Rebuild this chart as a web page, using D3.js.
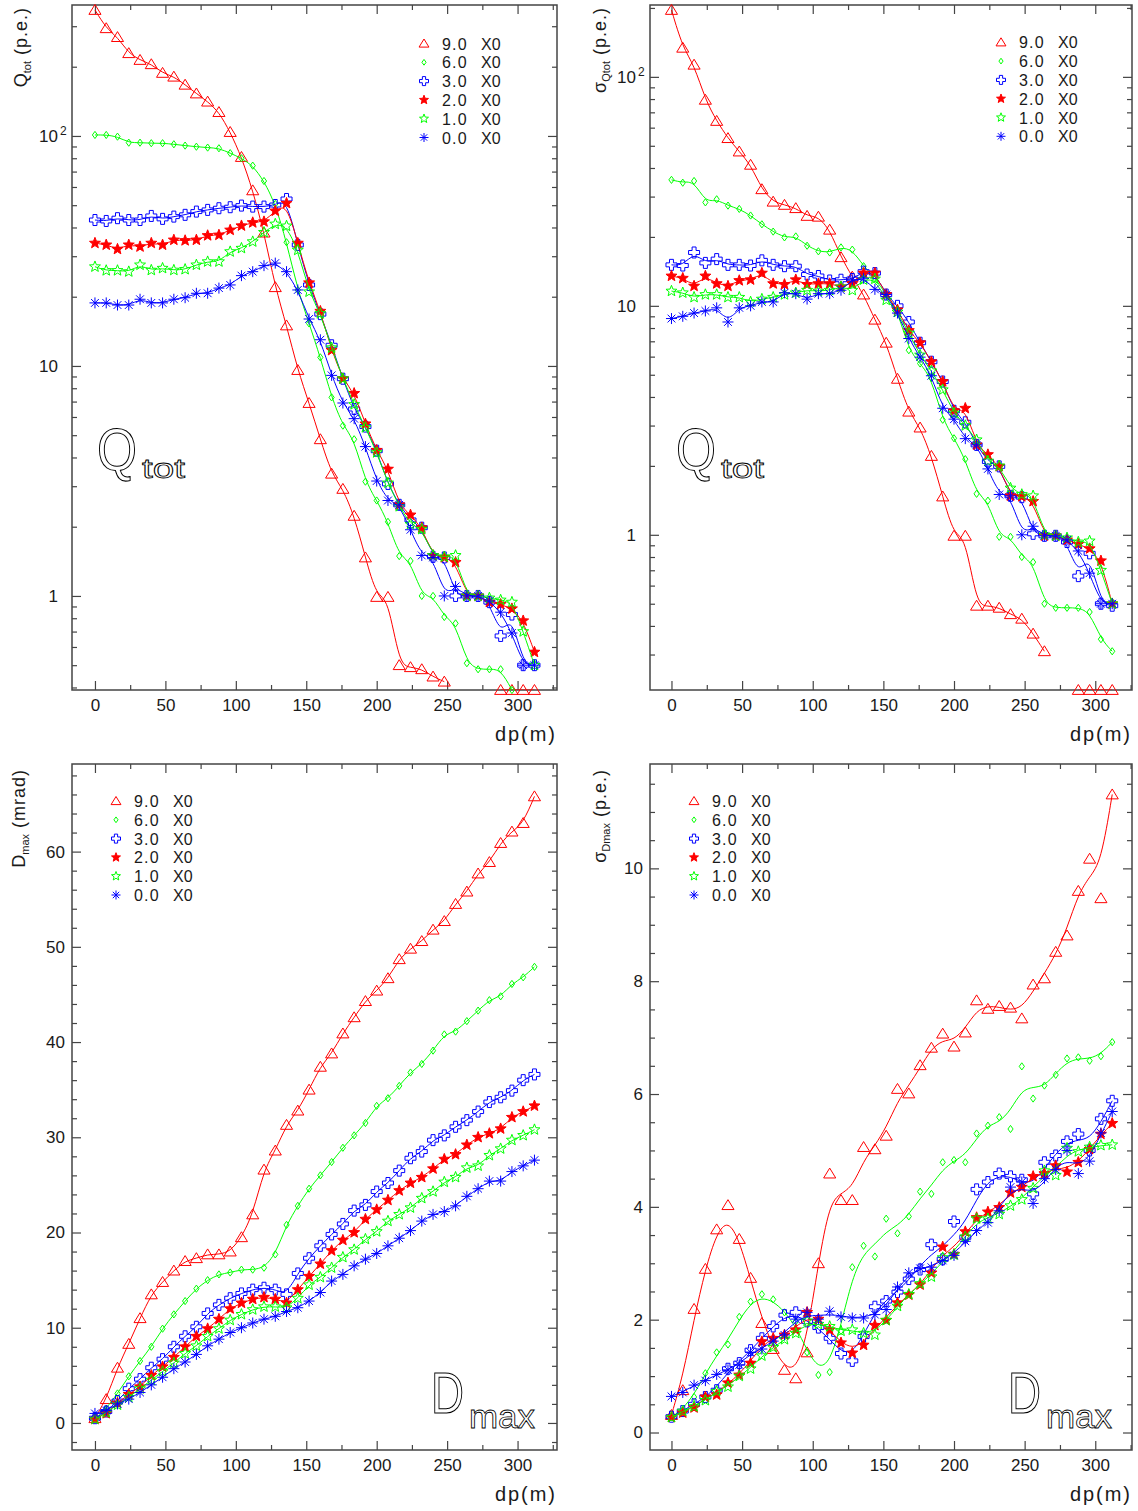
<!DOCTYPE html>
<html><head><meta charset="utf-8">
<script src="https://cdn.jsdelivr.net/npm/d3@7/dist/d3.min.js"></script>
<style>
body{margin:0;background:#fff}
svg{display:block}
text{font-family:"Liberation Sans",Arial,Helvetica,sans-serif;fill:#1a1a1a}
</style></head><body>
<svg id="chart" width="1138" height="1511"></svg>
<script>
// ---------- data ----------
const dp=[0,8,16,24,32,40,48,56,64,72,80,88,96,104,112,120,128,136,144,152,160,168,176,184,192,200,208,216,224,232,240,248,256,264,272,280,288,296,304,312];
const seriesNames=["9.0","6.0","3.0","2.0","1.0","0.0"];
const seriesColors=["#ff0000","#00ff00","#0000ff","#ff0000","#00ff00","#0000ff"];
const seriesMarkers=["triangle","diamond","cross","starFilled","starOpen","asterisk"];

// Q_tot (p.e.)
const qtot9=[353,294,269,229,214,205,188,181,167,153,141,127,104,81,58,38,22,15,9.6,6.9,4.8,3.4,2.92,2.23,1.47,0.99,0.99,0.50,0.49,0.48,0.446,0.424,null,null,null,null,0.39,0.39,0.39,0.39];
const qtot6=[101,101,99.3,93.5,93.5,93,93,92,90.8,89.8,89,88.4,84.2,80,74.3,63.7,50.6,34.5,21.4,15.3,10.9,7.3,5.5,4.8,3.14,2.6,2.1,1.49,1.42,1.0,1.0,0.81,0.76,0.51,0.48,0.48,0.48,0.39,null,null];
const qtot3=[43.1,42.7,43.9,43.1,43.1,44.9,43.6,44.6,45.4,46.9,47.7,48.5,49,49.8,49.3,49.3,50.1,53.2,33.6,22.5,16.8,12.3,8.8,6.5,5.45,4.28,3.07,2.49,2.14,1.98,1.48,1.47,1.0,1.0,1.0,0.94,0.67,0.83,0.5,0.5];
const qtot2=[34.2,33.6,32.2,33.6,33.0,34.2,33.6,35.3,35.1,35.3,36.9,37.1,39.0,40.7,42.0,42.4,47.2,51.0,34.2,23.0,17.3,11.7,8.8,7.6,5.6,4.3,3.56,2.49,2.25,1.98,1.50,1.47,1.40,1.0,1.0,0.94,0.92,0.88,0.78,0.57];
const qtot1=[27.0,26.0,26.0,25.7,27.5,26.1,26.6,26.1,26.3,27.5,28.4,28.4,31.4,32.5,34.7,38.1,41.4,40.6,31.9,21.0,16.9,12.0,8.8,6.8,5.4,4.2,3.1,2.45,2.05,1.95,1.5,1.48,1.5,1.0,1.0,0.98,0.96,0.94,0.7,0.5];
const qtot0=[18.8,18.8,18.4,18.4,19.5,18.8,18.8,19.5,19.8,20.7,20.7,21.8,22.5,24.7,25.7,27.3,28.0,25.7,21.4,16.0,13.0,9.1,6.9,5.9,4.46,3.16,2.6,2.49,1.94,1.5,1.47,1.0,1.1,1.0,1.0,0.95,0.85,0.69,0.5,0.5];

// sigma Q_tot (p.e.)
const sq9=[196,134,113,79.4,64.2,54.0,47.2,41.3,32.3,28.5,27.6,26.7,24.7,24.5,21.5,16.3,13.4,11.2,8.7,6.9,4.8,3.45,2.94,2.21,1.47,0.99,0.99,0.49,0.49,0.48,0.45,0.43,0.37,0.31,null,null,0.21,0.21,0.21,0.21];
const sq6=[35.5,34.5,35.1,28.3,29.2,27.4,26.5,24.8,22.7,21.1,19.9,20.1,18.3,17.3,17.1,18.0,17.6,14.9,13.2,11.2,9.6,6.4,5.6,4.83,3.18,2.64,2.14,1.51,1.41,0.98,0.98,0.80,0.76,0.50,0.48,0.48,0.48,0.46,0.35,0.31];
const sq3=[15.1,15.0,17.1,15.4,16.0,15.1,15.1,15.0,15.8,15.1,14.9,14.9,13.7,13.5,12.9,13.0,13.1,14.1,13.9,11.2,10.0,8.5,6.9,5.7,4.67,3.48,3.1,2.47,2.09,1.99,1.48,1.46,1.01,0.99,0.99,0.93,0.66,0.83,0.50,0.49];
const sq2=[13.5,13.2,12.2,13.5,12.5,12.2,12.9,13.0,13.9,12.5,12.4,13.0,12.4,12.5,12.5,12.1,12.5,13.9,13.9,11.2,9.6,7.8,6.9,5.7,4.67,3.48,3.57,2.47,2.24,1.99,1.48,1.47,1.40,0.99,0.99,0.95,0.91,0.87,0.77,0.50];
const sq1=[11.6,11.4,10.9,11.2,11.2,10.9,10.9,10.4,10.7,10.9,11.2,11.4,11.7,11.6,11.7,12.1,11.7,13.0,13.1,10.6,9.4,7.6,6.1,5.2,4.3,3.4,3.0,2.6,2.1,2.0,1.6,1.5,1.48,1.0,0.99,0.97,0.93,0.94,0.7,0.5];
const sq0=[8.8,9.0,9.3,9.5,9.8,8.5,9.8,10.0,10.4,10.4,11.4,11.3,10.7,11.3,11.3,11.7,13.0,13.2,11.8,11.2,9.3,7.2,5.97,4.95,3.57,3.2,2.63,2.47,1.94,1.5,1.48,1.0,1.09,0.99,0.99,0.95,0.85,0.68,0.5,0.5];

// D_max (mrad)
const dmax9=[0.5,2.5,5.8,8.3,11.0,13.5,14.8,16.0,17.0,17.3,17.7,17.7,18.0,19.5,21.9,26.6,28.6,31.3,32.8,35.0,37.4,38.8,40.9,42.6,44.3,45.4,46.7,48.7,49.8,50.6,51.8,52.7,54.5,55.8,57.7,58.9,60.9,62.1,63.0,65.8];
const dmax6=[0.4,1.5,3.1,4.9,6.5,8.0,9.9,11.4,12.8,14.1,15.0,15.6,15.8,16.1,16.1,16.3,17.7,20.8,22.8,24.6,26.0,27.4,28.9,30.2,31.5,33.3,34.1,35.4,36.8,37.7,39.1,40.8,41.1,42.2,43.3,44.4,44.8,46.1,46.8,47.9];
const dmax3=[0.5,1.2,2.3,3.6,4.6,5.8,6.7,8.0,9.1,10.1,11.5,12.4,13.1,13.6,14.0,14.2,14.0,13.5,15.7,17.3,18.6,19.8,20.9,22.3,22.9,24.3,25.2,26.5,27.8,28.5,29.7,30.2,31.1,31.8,32.7,33.7,34.2,34.9,36.0,36.6];
const dmax2=[0.4,1.0,2.1,3.0,3.8,5.0,5.9,6.9,8.0,9.1,9.9,10.9,12.0,12.6,13.0,13.2,13.0,12.6,14.0,15.4,16.7,18.1,19.2,20.0,21.4,22.4,23.4,24.4,25.2,25.8,26.7,27.7,28.2,29.2,30.0,30.4,30.9,32.1,32.7,33.3];
const dmax1=[0.4,1.1,1.9,2.7,3.6,4.5,5.4,6.3,7.3,8.1,9.1,9.9,10.8,11.4,11.9,12.2,12.2,12.1,13.1,14.5,15.3,16.3,17.4,18.2,19.3,20.1,21.2,21.9,22.6,23.6,24.3,25.3,25.8,26.8,27.0,28.1,28.8,29.7,30.2,30.8];
const dmax0=[1.0,1.3,2.0,2.5,3.2,4.0,4.8,5.7,6.4,7.2,8.1,8.8,9.5,10.0,10.5,10.9,11.2,11.7,12.1,12.8,13.7,14.9,15.6,16.5,17.2,17.8,18.6,19.4,20.2,21.2,21.9,22.2,22.8,23.8,24.6,25.4,25.4,26.4,27.0,27.6];

// sigma D_max (p.e.)
const sd9=[0.31,0.75,2.19,2.90,3.60,4.03,3.43,2.74,1.94,1.48,1.11,0.96,1.42,3.0,4.59,4.12,4.12,5.06,5.02,5.26,6.09,6.01,6.51,6.82,7.07,6.84,7.09,7.66,7.51,7.56,7.53,7.34,7.94,8.05,8.52,8.81,9.60,10.17,9.47,11.31];
const sd6=[0.27,0.39,0.63,1.05,1.42,1.56,2.05,2.32,2.45,2.36,2.13,1.97,1.42,1.02,1.07,1.80,2.93,3.31,3.12,3.79,3.53,3.83,4.27,4.23,4.79,4.83,4.79,5.30,5.44,5.59,5.38,6.49,5.92,6.15,6.34,6.63,6.65,6.59,6.67,6.92];
const sd3=[0.28,0.38,0.50,0.63,0.75,1.13,1.23,1.46,1.67,1.88,2.08,2.13,1.97,1.86,1.67,1.40,1.27,1.70,2.23,2.33,2.49,2.72,2.89,3.33,3.07,3.74,3.46,4.31,4.44,4.59,4.54,4.48,4.23,4.79,4.91,5.16,5.29,5.0,5.56,5.88];
const sd2=[0.27,0.35,0.44,0.63,0.67,0.88,1.02,1.23,1.61,1.67,1.73,1.82,2.13,2.01,1.82,1.59,1.41,1.55,1.90,1.99,2.30,2.44,2.62,2.83,3.29,3.16,3.56,3.81,3.91,3.99,4.25,4.35,4.54,4.59,4.73,4.62,4.79,5.02,5.29,5.48];
const sd1=[0.27,0.38,0.46,0.57,0.73,0.81,1.0,1.13,1.36,1.51,1.65,1.76,1.98,1.92,1.88,1.80,1.82,1.76,1.73,1.99,2.24,2.45,2.64,2.76,3.10,3.15,3.47,3.79,3.79,3.87,4.02,4.13,4.33,4.64,4.56,5.04,4.98,5.06,5.09,5.10];
const sd0=[0.64,0.71,0.84,0.92,1.03,1.11,1.20,1.42,1.48,1.62,1.73,2.01,2.13,2.01,2.15,2.05,2.03,2.03,2.09,2.18,2.58,2.83,2.91,2.93,3.05,3.14,3.39,3.58,3.72,3.93,4.35,4.44,4.06,4.50,4.66,5.00,4.59,4.81,5.31,5.69];

// tick values
const xMajorTicks=[0,50,100,150,200,250,300];
const xMinorTicks=[25,75,125,175,225,275,325];
const logMajorTicks=[1,10,100];
const logMinorTicks=[0.2,0.3,0.4,0.5,0.6,0.7,0.8,0.9,2,3,4,5,6,7,8,9,20,30,40,50,60,70,80,90,200,300];
const dmaxMajorTicks=[0,10,20,30,40,50,60];
const dmaxMinorTicks=[-2,2,4,6,8,12,14,16,18,22,24,26,28,32,34,36,38,42,44,46,48,52,54,56,58,62,64,66,68];
const sdMajorTicks=[0,2,4,6,8,10];
const sdMinorTicks=[0.5,1,1.5,2.5,3,3.5,4.5,5,5.5,6.5,7,7.5,8.5,9,9.5,10.5,11,11.5];

// ---------- drawing ----------
const svg=d3.select("#chart");
const defs=svg.append("defs");

function markerPath(type,s){
  const r=s/2;
  if(type==="triangle") return `M0,${-r}L${r*1.1},${r*0.8}L${-r*1.1},${r*0.8}Z`;
  if(type==="diamond") return `M0,${-r*0.72}L${r*0.52},0L0,${r*0.72}L${-r*0.52},0Z`;
  if(type==="cross"){const a=r*0.36;return `M${-a},${-r}H${a}V${-a}H${r}V${a}H${a}V${r}H${-a}V${a}H${-r}V${-a}H${-a}Z`;}
  if(type==="starFilled"||type==="starOpen"){let p="";for(let i=0;i<10;i++){const an=-Math.PI/2+i*Math.PI/5;const rr=i%2?r*0.45:r*1.05;p+=(i?"L":"M")+(rr*Math.cos(an)).toFixed(2)+","+(rr*Math.sin(an)).toFixed(2);}return p+"Z";}
  if(type==="asterisk"){let p="";for(let i=0;i<4;i++){const an=i*Math.PI/4;const dx=r*Math.cos(an),dy=r*Math.sin(an);p+=`M${(-dx).toFixed(2)},${(-dy).toFixed(2)}L${dx.toFixed(2)},${dy.toFixed(2)}`;}return p;}
}
function drawMarker(g,type,color,size,cx,cy){
  const p=g.append("path").attr("d",markerPath(type,size)).attr("transform",`translate(${cx},${cy})`)
    .attr("stroke",color).attr("stroke-width",1);
  p.attr("fill",type==="starFilled"?color:"none");
  return p;
}
// light smoothing used only for the drawn fit curve of a panel (markers keep raw values)
function smoothPass(vals){
  return vals.map((v,i)=>{
    if(v==null||i===0||i===vals.length-1||vals[i-1]==null||vals[i+1]==null) return v;
    return 0.25*vals[i-1]+0.5*v+0.25*vals[i+1];
  });
}

function drawPanel(p){
  const [L,T,R,B]=p.box;
  const x=d3.scaleLinear().domain(p.xDomain).range([L,R]);
  const y=(p.log?d3.scaleLog():d3.scaleLinear()).domain(p.yDomain).range([B,T]);
  const g=svg.append("g");
  defs.append("clipPath").attr("id","clip-"+p.id).append("rect")
    .attr("x",L).attr("y",T).attr("width",R-L).attr("height",B-T);

  const inX=v=>v>=p.xDomain[0]&&v<=p.xDomain[1];
  const inY=v=>v>=p.yDomain[0]&&v<=p.yDomain[1];
  function tickAxis(gen,scale,vals,len,tr){
    const a=g.append("g").attr("transform",tr).call(gen(scale).tickValues(vals).tickSize(-len).tickFormat(""));
    a.select(".domain").remove();
    a.selectAll("line").attr("stroke","#444").attr("stroke-width",1.2);
  }
  const xmaj=xMajorTicks.filter(inX), xmin=xMinorTicks.filter(inX);
  const ymaj=p.yMajor.filter(inY), ymin=p.yMinor.filter(inY);
  tickAxis(d3.axisBottom,x,xmaj,9,`translate(0,${B})`);
  tickAxis(d3.axisBottom,x,xmin,5,`translate(0,${B})`);
  tickAxis(d3.axisTop,x,xmaj,9,`translate(0,${T})`);
  tickAxis(d3.axisTop,x,xmin,5,`translate(0,${T})`);
  tickAxis(d3.axisLeft,y,ymaj,9,`translate(${L},0)`);
  tickAxis(d3.axisLeft,y,ymin,5,`translate(${L},0)`);
  tickAxis(d3.axisRight,y,ymaj,9,`translate(${R},0)`);
  tickAxis(d3.axisRight,y,ymin,5,`translate(${R},0)`);

  // tick labels
  const xl=g.append("g").attr("transform",`translate(0,${B})`)
    .call(d3.axisBottom(x).tickValues(xmaj).tickSize(0).tickPadding(9).tickFormat(d3.format("d")));
  xl.select(".domain").remove();
  xl.selectAll("text").attr("font-size",17).attr("font-family","Liberation Sans, Arial, sans-serif").attr("fill","#1a1a1a");
  const yl=g.append("g").attr("transform",`translate(${L},0)`)
    .call(d3.axisLeft(y).tickValues(ymaj).tickSize(0).tickPadding(p.yPad).tickFormat(v=>v>=100?"10":d3.format("d")(v)));
  yl.select(".domain").remove();
  yl.selectAll("text").attr("font-size",17).attr("font-family","Liberation Sans, Arial, sans-serif").attr("fill","#1a1a1a");
  yl.selectAll(".tick").filter(d=>d===100).append("text").text("2")
    .attr("x",-p.yPad+2).attr("dy","-0.15em").attr("text-anchor","start")
    .attr("font-size",12).attr("font-family","Liberation Sans, Arial, sans-serif").attr("fill","#1a1a1a");

  // frame
  g.append("rect").attr("x",L).attr("y",T).attr("width",R-L).attr("height",B-T)
    .attr("fill","none").attr("stroke","#444").attr("stroke-width",1.5);

  // series
  const line=d3.line().defined(d=>d[1]!=null).x(d=>x(d[0])).y(d=>y(d[1])).curve(d3.curveBasis);
  p.series.forEach((vals,i)=>{
    const pts=dp.map((d,j)=>[d,vals[j]]);
    let fitVals=vals;
    for(let k=0;k<p.smooth;k++) fitVals=smoothPass(fitVals);
    const fit=dp.map((d,j)=>[d,fitVals[j]]);
    g.append("path").datum(fit).attr("d",line).attr("fill","none")
      .attr("stroke",seriesColors[i]).attr("stroke-width",1).attr("clip-path",`url(#clip-${p.id})`);
    const mg=g.append("g");
    pts.filter(d=>d[1]!=null).forEach(d=>{
      const sz=seriesMarkers[i]==="diamond"?10:11;
      drawMarker(mg,seriesMarkers[i],seriesColors[i],sz,x(d[0]),y(d[1]));
    });
  });

  // legend
  const lg=g.append("g");
  seriesNames.forEach((nm,i)=>{
    const ly=p.legend[1]+i*18.8;
    drawMarker(lg,seriesMarkers[i],seriesColors[i],seriesMarkers[i]==="diamond"?8:9,p.legend[0],ly);
    lg.append("text").attr("x",p.legend[0]+18).attr("y",ly+6).attr("font-size",16)
      .attr("letter-spacing",1.2).text(nm);
    lg.append("text").attr("x",p.legend[0]+57).attr("y",ly+6).attr("font-size",16).text("X0");
  });

  // x title
  g.append("text").attr("x",R-2).attr("y",B+51).attr("text-anchor","end")
    .attr("font-size",20).attr("textLength",60).attr("lengthAdjust","spacing").text("dp(m)");

  // y title (rotated)
  const yt=g.append("text").attr("transform",`translate(${p.ytitle[0]},${p.ytitle[1]}) rotate(-90)`)
    .attr("text-anchor","end").attr("font-size",18);
  yt.append("tspan").text(p.ytitleMain);
  yt.append("tspan").attr("font-size",11).attr("dy",4).text(p.ytitleSub);
  yt.append("tspan").attr("dy",-4).attr("letter-spacing",1).text(" "+p.ytitleUnit);

  // big label
  const bl=g.append("g");
  bl.append("text").attr("x",p.big.x).attr("y",p.big.y).attr("font-size",p.big.size)
    .attr("textLength",p.big.w).attr("lengthAdjust","spacingAndGlyphs")
    .style("fill","none").style("stroke","#000").style("stroke-width",1.1).text(p.big.main);
  bl.append("text").attr("x",p.big.x+p.big.w+5).attr("y",p.big.y+p.big.subDy).attr("font-size",p.big.subSize)
    .attr("textLength",p.big.subW).attr("lengthAdjust","spacingAndGlyphs")
    .style("fill","none").style("stroke","#000").style("stroke-width",0.8).text(p.big.sub);
}

const panels=[
 {id:"qtot",box:[72,5,557,690],xDomain:[-16.3,328],log:true,yDomain:[0.39,371],smooth:0,
  yMajor:logMajorTicks,yMinor:logMinorTicks,yPad:14,
  series:[qtot9,qtot6,qtot3,qtot2,qtot1,qtot0],legend:[424,43.5],
  ytitle:[27,7],ytitleMain:"Q",ytitleSub:"tot",ytitleUnit:"(p.e.)",
  big:{x:97,y:470,size:60,w:40,main:"Q",sub:"tot",subSize:27,subW:43,subDy:8}},
 {id:"sqtot",box:[650,5,1132,690],xDomain:[-15.2,326],log:true,yDomain:[0.21,206],smooth:0,
  yMajor:logMajorTicks,yMinor:logMinorTicks,yPad:14,
  series:[sq9,sq6,sq3,sq2,sq1,sq0],legend:[1001,42.3],
  ytitle:[606,7],ytitleMain:"σ",ytitleSub:"Qtot",ytitleUnit:"(p.e.)",
  big:{x:676,y:470,size:60,w:40,main:"Q",sub:"tot",subSize:27,subW:43,subDy:8}},
 {id:"dmax",box:[72,764,557,1450],xDomain:[-16.3,328],log:false,yDomain:[-2.84,69.2],smooth:0,
  yMajor:dmaxMajorTicks,yMinor:dmaxMinorTicks,yPad:7,
  series:[dmax9,dmax6,dmax3,dmax2,dmax1,dmax0],legend:[116,801],
  ytitle:[25,769],ytitleMain:"D",ytitleSub:"max",ytitleUnit:"(mrad)",
  big:{x:431,y:1413,size:57,w:33,main:"D",sub:"max",subSize:33,subW:66,subDy:15}},
 {id:"sdmax",box:[650,764,1132,1450],xDomain:[-15.2,326],log:false,yDomain:[-0.31,11.85],smooth:1,
  yMajor:sdMajorTicks,yMinor:sdMinorTicks,yPad:7,
  series:[sd9,sd6,sd3,sd2,sd1,sd0],legend:[694,801],
  ytitle:[606,769],ytitleMain:"σ",ytitleSub:"Dmax",ytitleUnit:"(p.e.)",
  big:{x:1008,y:1413,size:57,w:33,main:"D",sub:"max",subSize:33,subW:66,subDy:15}}
];
panels.forEach(drawPanel);
</script></body></html>
